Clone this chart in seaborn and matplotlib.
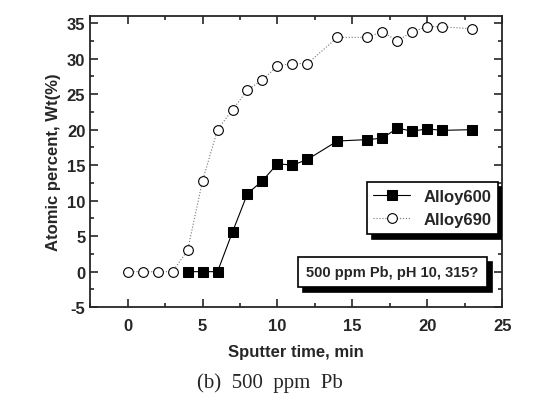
import matplotlib
matplotlib.use("Agg")
import matplotlib.pyplot as plt
from matplotlib.patches import Shadow
from matplotlib.legend import Legend
from matplotlib.lines import Line2D
import seaborn as sns
from matplotlib.ticker import MultipleLocator

# Sputter depth profile data
time_600 = [4, 5, 6, 7, 8, 9, 10, 11, 12, 14, 16, 17, 18, 19, 20, 21, 23]
alloy600 = [0, 0, 0, 5.6, 11, 12.8, 15.2, 15, 15.8, 18.4, 18.6, 18.8, 20.2, 19.8, 20.1, 19.9, 20]
time_690 = [0, 1, 2, 3, 4, 5, 6, 7, 8, 9, 10, 11, 12, 14, 16, 17, 18, 19, 20, 21, 23]
alloy690 = [0, 0, 0, 0, 3, 12.8, 20, 22.8, 25.6, 27, 29, 29.3, 29.3, 33, 33, 33.8, 32.5, 33.8, 34.5, 34.5, 34.2]
note = "500 ppm Pb, pH 10, 315?"

sns.set_style("ticks")
plt.rcParams['font.family'] = ['Liberation Sans', 'DejaVu Sans']
plt.rcParams['axes.unicode_minus'] = False

fig = plt.figure(figsize=(5.4, 4.06), dpi=100)
ax = fig.add_axes([0.167, 0.241, 0.763, 0.717])

sns.lineplot(x=time_690, y=alloy690, ax=ax, color="0.45", lw=0.8, linestyle=":",
             marker="o", markersize=7, markerfacecolor="white", markeredgecolor="black",
             markeredgewidth=0.8, label="Alloy690")
sns.lineplot(x=time_600, y=alloy600, ax=ax, color="black", lw=0.8,
             marker="s", markersize=7, markerfacecolor="black", markeredgecolor="black",
             label="Alloy600")

ax.set_xlim(-2.5, 25)
ax.set_ylim(-5, 36)
ax.xaxis.set_major_locator(MultipleLocator(5))
ax.xaxis.set_minor_locator(MultipleLocator(2.5))
ax.yaxis.set_major_locator(MultipleLocator(5))
ax.yaxis.set_minor_locator(MultipleLocator(2.5))
ax.tick_params(which="both", direction="in", top=True, right=True, width=1.2)
ax.tick_params(which="major", length=6, labelsize=12)
ax.tick_params(which="minor", length=3)
ax.tick_params(axis="x", pad=8)
for s in ax.spines.values():
    s.set_linewidth(1.3)
for lab in ax.get_xticklabels() + ax.get_yticklabels():
    lab.set_fontweight("bold")

ax.set_xlabel("Sputter time, min", fontsize=12, fontweight="bold", labelpad=8)
ax.set_ylabel("Atomic percent, Wt(%)", fontsize=12, fontweight="bold")

h, l = ax.get_legend_handles_labels()
leg = ax.legend(h[::-1], l[::-1], loc="upper right", bbox_to_anchor=(0.99, 0.43),
                borderaxespad=0, frameon=True, fancybox=False, edgecolor="black",
                prop={"weight": "bold", "size": 12}, framealpha=1,
                handlelength=2.2, borderpad=0.4)
leg.get_frame().set_linewidth(1.2)

# condition note, drawn as a second handle-less legend box
note_box = Legend(ax, [Line2D([], [], alpha=0)], [note], loc="center left",
                  bbox_to_anchor=(0.505, 0.12), borderaxespad=0, handlelength=0,
                  handletextpad=0, frameon=True, fancybox=False, edgecolor="black",
                  framealpha=1, prop={"weight": "bold", "size": 10.5}, borderpad=0.55)
note_box.get_frame().set_linewidth(1.2)
ax.add_artist(note_box)

fig.text(0.5, 0.057, "(b)  500  ppm  Pb", ha="center", va="center", fontsize=15,
         family=["Liberation Serif", "DejaVu Serif"])

# heavy black drop shadows behind both boxes
fig.canvas.draw()
for box in [leg, note_box]:
    sh = Shadow(box.legendPatch, 3.6, -3.6, facecolor="black", edgecolor="black", alpha=1)
    sh.set_zorder(4.9)
    ax.add_artist(sh)

fig.savefig("out.png", dpi=100)
